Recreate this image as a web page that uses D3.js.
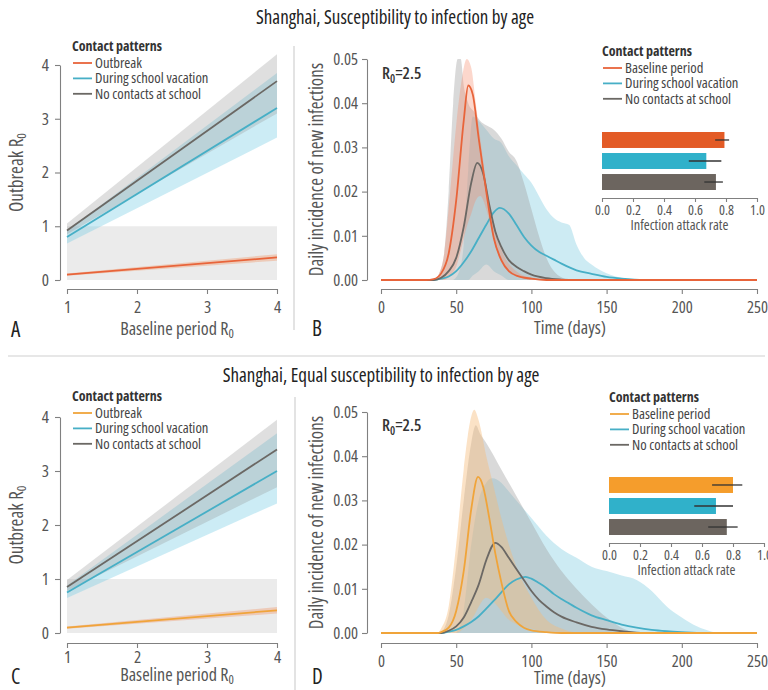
<!DOCTYPE html>
<html>
<head>
<meta charset="utf-8">
<script src="https://cdn.jsdelivr.net/npm/d3@7"></script>
<style>
body { margin: 0; background: #fff; }
text { font-family: "Open Sans", "Lato", sans-serif; font-stretch: 75%; }
</style>
</head>
<body>
<svg id="fig" width="768" height="690"></svg>
<script>
// ---- data ----
var patternsLeft = ["Outbreak", "During school vacation", "No contacts at school"];
var patternsRight = ["Baseline period", "During school vacation", "No contacts at school"];
var titles = ["Shanghai, Susceptibility to infection by age", "Shanghai, Equal susceptibility to infection by age"];
var r0Ticks = [1, 2, 3, 4];
var outbreakTicks = [0, 1, 2, 3, 4];
var dayTicks = [0, 50, 100, 150, 200, 250];
var incidenceTicks = [0, 0.01, 0.02, 0.03, 0.04, 0.05];
var attackTicks = [0, 0.2, 0.4, 0.6, 0.8, 1.0];

// [baseline R0, outbreak R0, lower, upper]
var aOutbreak = [[1, 0.1, 0.08, 0.12], [4, 0.42, 0.36, 0.48]];
var aVacation = [[1, 0.8, 0.68, 0.92], [4, 3.2, 2.65, 3.85]];
var aSchool = [[1, 0.92, 0.85, 1.05], [4, 3.7, 3.1, 4.2]];
var cOutbreak = [[1, 0.1, 0.08, 0.12], [4, 0.42, 0.36, 0.48]];
var cVacation = [[1, 0.75, 0.65, 0.88], [4, 3.0, 2.4, 3.7]];
var cSchool = [[1, 0.85, 0.78, 0.98], [4, 3.4, 2.7, 3.95]];

// [day, daily incidence]
var bBaseline = [[0,0],[30,0],[35,0.0002],[40,0.0015],[45,0.006],[50,0.018],[55,0.036],[58,0.044],[61,0.042],[65,0.032],[70,0.02],[75,0.0095],[80,0.0045],[85,0.002],[90,0.001],[100,0.0003],[110,0],[250,0]];
var bVacation = [[0,0],[35,0],[40,0.0003],[45,0.0008],[50,0.002],[55,0.004],[60,0.0065],[65,0.0095],[70,0.0125],[75,0.0153],[79,0.0163],[85,0.015],[90,0.0125],[95,0.0098],[100,0.0078],[105,0.0064],[110,0.0055],[115,0.0046],[120,0.0037],[130,0.0022],[140,0.0014],[150,0.0007],[160,0.0003],[175,0],[250,0]];
var bSchool = [[0,0],[35,0],[40,0.0005],[45,0.002],[50,0.005],[55,0.012],[60,0.022],[64,0.0265],[68,0.024],[72,0.017],[76,0.011],[80,0.0075],[85,0.0045],[90,0.003],[95,0.002],[100,0.0012],[110,0.0004],[120,0.0001],[130,0],[250,0]];
var dBaseline = [[0,0],[38,0],[40,0.0002],[45,0.0012],[50,0.005],[55,0.014],[60,0.028],[64.5,0.0353],[68,0.033],[72,0.026],[76,0.018],[80,0.0115],[85,0.005],[90,0.0025],[95,0.0012],[100,0.0006],[110,0.0002],[120,0],[250,0]];
var dVacation = [[0,0],[40,0],[45,0.0003],[50,0.0007],[55,0.0015],[60,0.0025],[65,0.0038],[70,0.0055],[75,0.0073],[80,0.0092],[85,0.011],[90,0.0121],[96,0.0127],[100,0.0123],[105,0.0113],[110,0.0102],[115,0.0088],[120,0.0077],[125,0.0067],[130,0.0057],[140,0.004],[150,0.0029],[160,0.0019],[170,0.0012],[180,0.0007],[190,0.0004],[200,0.0002],[215,0],[250,0]];
var dSchool = [[0,0],[40,0],[45,0.0005],[50,0.0015],[55,0.0035],[60,0.007],[65,0.011],[70,0.0165],[76,0.0204],[80,0.0195],[85,0.017],[90,0.0145],[95,0.012],[100,0.0095],[105,0.0075],[110,0.006],[115,0.0047],[120,0.0037],[130,0.0024],[140,0.0014],[150,0.0008],[160,0.0004],[175,0],[250,0]];

// [day, lower, upper]
var bBandBaseline = [[36,0,0],[38,0,0.001],[42,0,0.006],[46,0.001,0.02],[50,0.003,0.035],[54,0.008,0.046],[57,0.012,0.05],[60,0.015,0.048],[63,0.018,0.04],[66,0.019,0.032],[70,0.016,0.022],[75,0.009,0.013],[80,0.004,0.007],[90,0.001,0.002],[100,0,0.0005],[110,0,0]];
var bBandVacation = [[48,0,0],[52,0,0.002],[55,0,0.008],[58,0,0.025],[61,0.001,0.037],[65,0.002,0.036],[70,0.0035,0.034],[75,0.002,0.032],[80,0.001,0.031],[85,0,0.028],[90,0,0.026],[95,0,0.024],[100,0,0.022],[105,0,0.019],[110,0,0.016],[115,0,0.014],[120,0,0.013],[125,0,0.0125],[130,0,0.008],[135,0,0.005],[140,0,0.0035],[150,0,0.0015],[160,0,0.0005],[175,0,0]];
var bBandSchool = [[36,0,0],[38,0,0.001],[42,0,0.006],[45,0,0.02],[48,0,0.04],[51,0,0.05],[53,0,0.05],[55,0,0.044],[58,0,0.04],[62,0,0.038],[66,0,0.036],[70,0,0.035],[75,0,0.034],[80,0,0.032],[85,0,0.029],[90,0,0.027],[95,0,0.022],[100,0,0.016],[105,0,0.01],[110,0,0.005],[115,0,0.002],[125,0,0]];
var dBandBaseline = [[38,0,0],[40,0,0.001],[45,0,0.006],[50,0,0.02],[55,0.001,0.037],[60,0.003,0.049],[62,0.004,0.0505],[65,0.006,0.048],[70,0.008,0.04],[75,0.007,0.033],[80,0.005,0.026],[85,0.003,0.02],[90,0.002,0.015],[100,0.001,0.008],[110,0,0.003],[120,0,0.001],[130,0,0]];
var dBandVacation = [[50,0,0],[55,0,0.005],[60,0,0.02],[65,0,0.03],[70,0,0.034],[74,0,0.035],[80,0,0.034],[85,0,0.032],[90,0,0.03],[100,0,0.026],[110,0,0.022],[120,0,0.019],[130,0,0.017],[140,0,0.015],[150,0,0.014],[160,0,0.013],[170,0,0.012],[180,0,0.0095],[190,0,0.006],[200,0,0.0035],[210,0,0.0015],[220,0,0.0003],[225,0,0]];
var dBandSchool = [[40,0,0],[45,0,0.004],[50,0,0.015],[55,0,0.03],[60,0,0.043],[63,0,0.047],[66,0,0.045],[70,0,0.043],[80,0,0.037],[90,0,0.031],[100,0,0.025],[110,0,0.019],[120,0,0.014],[130,0,0.01],[140,0,0.0065],[150,0,0.0035],[160,0,0.0012],[170,0,0]];

// infection attack rate: estimate, lower, upper (baseline, vacation, no school)
var bAttack = [0.79, 0.673, 0.735];
var bAttackLo = [0.73, 0.56, 0.66];
var bAttackHi = [0.82, 0.77, 0.78];
var dAttack = [0.80, 0.69, 0.76];
var dAttackLo = [0.665, 0.55, 0.64];
var dAttackHi = [0.86, 0.80, 0.83];

// ---- styles ----
var orangeTop = "#e8643a", orangeBot = "#f0a43a";
var blue = "#47afc6", gray = "#6b6864";
var barColsTop = ["#e35b26", "#30b1ca", "#6c655f"];
var barColsBot = ["#f59d2c", "#30b1ca", "#6c655f"];
var axisCol = "#808080", tickText = "#555";

var svg = d3.select("#fig");

function styleAxis(g, size) {
    g.select(".domain").attr("stroke", axisCol).attr("stroke-width", 1.1);
    g.selectAll(".tick line").attr("stroke", axisCol).attr("stroke-width", 1.1);
    g.selectAll(".tick text").attr("fill", tickText).style("font-size", size + "px");
}

function subLabel(sel, main, sub) {
    sel.append("tspan").text(main);
    sel.append("tspan").attr("baseline-shift", "-25%").style("font-size", "0.7em").text(sub);
}

function legend(g, x, y, labels, colors) {
    g.append("text").attr("x", x).attr("y", y + 4)
        .style("font-size", "14px").style("font-weight", "bold").attr("fill", "#333")
        .text("Contact patterns");
    labels.forEach(function (l, i) {
        var yy = y + 16 + i * 15.4;
        g.append("line").attr("x1", x + 1).attr("x2", x + 20).attr("y1", yy).attr("y2", yy)
            .attr("stroke", colors[i]).attr("stroke-width", 1.8);
        g.append("text").attr("x", x + 23).attr("y", yy + 5)
            .style("font-size", "14.6px").attr("fill", "#444").text(l);
    });
}

function drawR0Panel(o) {
    var g = svg.append("g");
    var x = d3.scaleLinear().domain([1, 4]).range([67, 277]);
    var y = d3.scaleLinear().domain([0, 4]).range([o.yBot, o.yTop]);

    g.append("rect").attr("x", x(1)).attr("y", y(1))
        .attr("width", x(4) - x(1)).attr("height", y(0) - y(1)).attr("fill", "#ebebeb");

    var area = d3.area().x(function (d) { return x(d[0]); })
        .y0(function (d) { return y(d[2]); }).y1(function (d) { return y(d[3]); });
    var line = d3.line().x(function (d) { return x(d[0]); }).y(function (d) { return y(d[1]); });

    var fills = ["rgba(240,140,90,0.35)", "rgba(120,205,228,0.38)", "rgba(150,150,150,0.3)"];
    o.series.forEach(function (s, i) {
        g.append("path").datum(s).attr("d", area).attr("fill", fills[i]);
    });
    o.series.forEach(function (s, i) {
        g.append("path").datum(s).attr("d", line).attr("fill", "none")
            .attr("stroke", o.colors[i]).attr("stroke-width", 1.8);
    });

    g.append("g").attr("transform", "translate(60,0)")
        .call(d3.axisLeft(y).tickValues(outbreakTicks).tickFormat(d3.format("d"))
            .tickSize(5).tickSizeOuter(0).tickPadding(6))
        .call(styleAxis, 17);
    g.append("g").attr("transform", "translate(0," + o.xAxisY + ")")
        .call(d3.axisBottom(x).tickValues(r0Ticks).tickFormat(d3.format("d"))
            .tickSize(5).tickSizeOuter(0).tickPadding(o.xPad))
        .call(styleAxis, 17);

    var yl = g.append("text").attr("transform", "translate(23," + ((o.yTop + o.yBot) / 2) + ") rotate(-90)")
        .attr("text-anchor", "middle").style("font-size", "19px").attr("fill", "#555");
    subLabel(yl, "Outbreak R", "0");
    var xl = g.append("text").attr("x", 177).attr("y", o.xTitleY)
        .attr("text-anchor", "middle").style("font-size", "18px").attr("fill", "#555");
    subLabel(xl, "Baseline period R", "0");
    g.append("text").attr("x", 11).attr("y", o.letterY).style("font-size", "21px")
        .attr("fill", "#222").text(o.letter);

    legend(g, 72, o.legendY, patternsLeft, o.colors);
}

function drawCurvePanel(o) {
    var g = svg.append("g");
    var x = d3.scaleLinear().domain([0, 250]).range([381, 757]);
    var y = d3.scaleLinear().domain([0, 0.05]).range([o.yBot, o.yTop]);

    var area = d3.area().curve(d3.curveMonotoneX).x(function (d) { return x(d[0]); })
        .y0(function (d) { return y(d[1]); }).y1(function (d) { return y(d[2]); });
    var line = d3.line().curve(d3.curveMonotoneX).x(function (d) { return x(d[0]); })
        .y(function (d) { return y(d[1]); });

    g.append("path").datum(o.bands[1]).attr("d", area).attr("fill", "rgba(130,205,225,0.4)");
    g.append("path").datum(o.bands[2]).attr("d", area).attr("fill", "rgba(160,160,160,0.4)");
    g.append("path").datum(o.bands[0]).attr("d", area).attr("fill", o.bandFill);

    [1, 2, 0].forEach(function (i) {
        g.append("path").datum(o.curves[i]).attr("d", line).attr("fill", "none")
            .attr("stroke", o.colors[i]).attr("stroke-width", 1.8);
    });

    g.append("g").attr("transform", "translate(367,0)")
        .call(d3.axisLeft(y).tickValues(incidenceTicks).tickFormat(d3.format(".2f"))
            .tickSize(5).tickSizeOuter(0).tickPadding(4))
        .call(styleAxis, 16.5);
    g.append("g").attr("transform", "translate(0," + o.xAxisY + ")")
        .call(d3.axisBottom(x).tickValues(dayTicks).tickSize(5).tickSizeOuter(0).tickPadding(o.xPad))
        .call(styleAxis, 16.5);

    g.append("text").attr("transform", "translate(323," + ((o.yTop + o.yBot) / 2) + ") rotate(-90)")
        .attr("text-anchor", "middle").style("font-size", "19px").attr("fill", "#555")
        .text("Daily incidence of new infections");
    g.append("text").attr("x", 570).attr("y", o.xTitleY).attr("text-anchor", "middle")
        .style("font-size", "18px").attr("fill", "#555").text("Time (days)");
    g.append("text").attr("x", 312).attr("y", o.letterY).style("font-size", "21px")
        .attr("fill", "#222").text(o.letter);

    var r = g.append("text").attr("x", 382).attr("y", o.r0Y).style("font-size", "16.5px")
        .style("font-weight", "600").attr("fill", "#333");
    r.append("tspan").text("R");
    r.append("tspan").attr("baseline-shift", "-30%").style("font-size", "0.7em").text("0");
    r.append("tspan").attr("baseline-shift", "0").text("=2.5");

    legend(g, o.legendX, o.legendY, patternsRight, o.colors);

    // inset: infection attack rate
    var xi = d3.scaleLinear().domain([0, 1]).range([o.insetX0, o.insetX0 + 155]);
    var yi = d3.scaleBand().domain(patternsRight).range([o.insetY0, o.insetY0 + 58])
        .paddingInner(0.24).paddingOuter(0);
    g.selectAll(".bar" + o.letter).data(patternsRight).enter().append("rect")
        .attr("x", xi(0)).attr("y", function (d) { return yi(d); })
        .attr("width", function (d, i) { return xi(o.attack[i]) - xi(0); })
        .attr("height", yi.bandwidth())
        .attr("fill", function (d, i) { return o.barCols[i]; });
    g.selectAll(".err" + o.letter).data(patternsRight).enter().append("line")
        .attr("x1", function (d, i) { return xi(o.attackLo[i]); })
        .attr("x2", function (d, i) { return xi(o.attackHi[i]); })
        .attr("y1", function (d) { return yi(d) + yi.bandwidth() / 2; })
        .attr("y2", function (d) { return yi(d) + yi.bandwidth() / 2; })
        .attr("stroke", "#333").attr("stroke-width", 1.3);
    g.append("g").attr("transform", "translate(0," + (o.insetY0 + 66) + ")")
        .call(d3.axisBottom(xi).tickValues(attackTicks).tickFormat(d3.format(".1f"))
            .tickSize(4).tickSizeOuter(0).tickPadding(3))
        .call(styleAxis, 14);
    g.append("text").attr("x", xi(0.5)).attr("y", o.insetY0 + 98).attr("text-anchor", "middle")
        .style("font-size", "14.3px").attr("fill", "#555").text("Infection attack rate");
}

// titles and separators
svg.append("text").attr("x", 395).attr("y", 24).attr("text-anchor", "middle")
    .style("font-size", "19px").attr("fill", "#222").text(titles[0]);
svg.append("text").attr("x", 381).attr("y", 382).attr("text-anchor", "middle")
    .style("font-size", "19px").attr("fill", "#222").text(titles[1]);
svg.append("line").attr("x1", 8).attr("x2", 765).attr("y1", 356).attr("y2", 356)
    .attr("stroke", "#d0d0d0").attr("stroke-width", 1.2);
svg.append("line").attr("x1", 294).attr("x2", 294).attr("y1", 46).attr("y2", 330)
    .attr("stroke", "#d0d0d0").attr("stroke-width", 1.2);
svg.append("line").attr("x1", 295).attr("x2", 295).attr("y1", 397).attr("y2", 690)
    .attr("stroke", "#d0d0d0").attr("stroke-width", 1.2);

drawR0Panel({
    letter: "A", yTop: 65, yBot: 280, xAxisY: 289, xPad: 7, xTitleY: 335, letterY: 337,
    legendY: 47, series: [aOutbreak, aVacation, aSchool], colors: [orangeTop, blue, gray]
});
drawR0Panel({
    letter: "C", yTop: 417, yBot: 633, xAxisY: 643, xPad: 3, xTitleY: 681, letterY: 684,
    legendY: 397, series: [cOutbreak, cVacation, cSchool], colors: [orangeBot, blue, gray]
});
drawCurvePanel({
    letter: "B", yTop: 59, yBot: 280, xAxisY: 289, xPad: 7, xTitleY: 334, letterY: 336, r0Y: 79,
    legendX: 602, legendY: 52, colors: [orangeTop, blue, gray],
    curves: [bBaseline, bVacation, bSchool], bands: [bBandBaseline, bBandVacation, bBandSchool],
    bandFill: "rgba(245,140,110,0.35)",
    insetX0: 602, insetY0: 132, attack: bAttack, attackLo: bAttackLo, attackHi: bAttackHi, barCols: barColsTop
});
drawCurvePanel({
    letter: "D", yTop: 412, yBot: 633, xAxisY: 643, xPad: 7, xTitleY: 684, letterY: 684, r0Y: 431,
    legendX: 609, legendY: 398, colors: [orangeBot, blue, gray],
    curves: [dBaseline, dVacation, dSchool], bands: [dBandBaseline, dBandVacation, dBandSchool],
    bandFill: "rgba(245,185,120,0.42)",
    insetX0: 609, insetY0: 477, attack: dAttack, attackLo: dAttackLo, attackHi: dAttackHi, barCols: barColsBot
});
</script>
</body>
</html>
